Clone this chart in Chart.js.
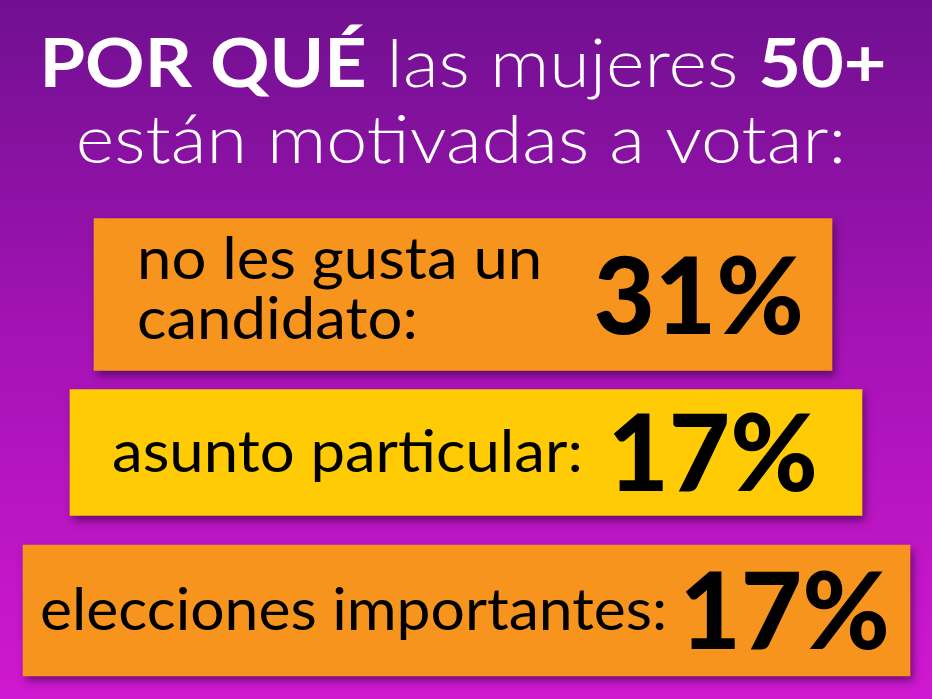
<!DOCTYPE html>
<html>
<head>
<meta charset="utf-8">
<script src="https://cdn.jsdelivr.net/npm/chart.js@4"></script>
<style>
  html, body { margin: 0; padding: 0; background: #7a1096; }
  #wrap { width: 932px; height: 699px; position: relative; }
</style>
</head>
<body>
<div id="wrap"><canvas id="motivosChart"></canvas></div>
<script>
// data
const categories = ['no les gusta un candidato', 'asunto particular', 'elecciones importantes'];
const labelLines = [['no les gusta un', 'candidato:'], ['asunto particular:'], ['elecciones importantes:']];
const percentages = [31, 17, 17];
// bar spans in x-scale units (the design widens each row, not tied to the value)
const barFrom = [94, 70, 23];
const barTo = [832, 862, 910];
const barColors = ['#f7941e', '#ffcb05', '#f7941e'];
const barHeights = [152, 126, 131];

const titleLine1 = [
  { text: 'POR QUÉ', weight: 700 },
  { text: ' las mujeres ', weight: 300 },
  { text: '50+', weight: 700 }
];
const titleLine2 = 'están motivadas a votar:';

const labelInset = [43, 42, 17];
const labelSizes = [59, 59, 58];
const pctInset = [31, 47, 23];

// the source image is a bit stretched sideways
const titleStretch = 1.1;
const labelStretch = 1.045;

function stretchedText(ctx, text, x, y, sx, align) {
  const w = ctx.measureText(text).width * sx;
  let x0 = x;
  if (align === 'center') x0 = x - w / 2;
  if (align === 'right') x0 = x - w;
  ctx.save();
  ctx.textAlign = 'left';
  ctx.translate(x0, y);
  ctx.scale(sx, 1);
  ctx.fillText(text, 0, 0);
  ctx.restore();
  return w;
}

const datasets = categories.map((c, i) => ({
  label: c,
  data: categories.map((_, j) => (j === i ? [barFrom[i], barTo[i]] : null)),
  backgroundColor: barColors[i],
  borderWidth: 0,
  borderSkipped: false,
  barThickness: barHeights[i],
  grouped: false,
  clip: false
}));

const infographicPlugin = {
  id: 'infographic',
  beforeDraw(chart) {
    const ctx = chart.ctx;
    const g = ctx.createLinearGradient(0, 0, 0, chart.height);
    g.addColorStop(0, '#701090');
    g.addColorStop(0.5, '#a613b6');
    g.addColorStop(1, '#d018d0');
    ctx.save();
    ctx.fillStyle = g;
    ctx.fillRect(0, 0, chart.width, chart.height);

    // title
    ctx.fillStyle = '#ffffff';
    ctx.textBaseline = 'alphabetic';
    const size = 67;
    let total = 0;
    titleLine1.forEach(p => {
      ctx.font = p.weight + ' ' + size + 'px Lato';
      p.w = ctx.measureText(p.text).width * titleStretch;
      total += p.w;
    });
    let x = chart.width / 2 - 3 - total / 2;
    titleLine1.forEach(p => {
      ctx.font = p.weight + ' ' + size + 'px Lato';
      stretchedText(ctx, p.text, x, 87, titleStretch, 'left');
      x += p.w;
    });
    ctx.font = '300 ' + size + 'px Lato';
    stretchedText(ctx, titleLine2, chart.width / 2 - 5, 163, titleStretch, 'center');
    ctx.restore();
  },
  beforeDatasetsDraw(chart) {
    const ctx = chart.ctx;
    ctx.save();
    ctx.shadowColor = 'rgba(45, 0, 60, 0.55)';
    ctx.shadowBlur = 8;
    ctx.shadowOffsetX = 3;
    ctx.shadowOffsetY = 5;
  },
  afterDatasetsDraw(chart) {
    const ctx = chart.ctx;
    ctx.restore();
    ctx.save();
    ctx.fillStyle = '#000000';
    ctx.textBaseline = 'alphabetic';
    categories.forEach((c, i) => {
      const bar = chart.getDatasetMeta(i).data[i];
      if (!bar) return;
      const left = Math.min(bar.x, bar.base);
      const right = Math.max(bar.x, bar.base);
      const cy = bar.y;
      // label
      ctx.font = '400 ' + labelSizes[i] + 'px Lato';
      const lines = labelLines[i];
      if (lines.length === 2) {
        stretchedText(ctx, lines[0], left + labelInset[i], cy - 15.5, labelStretch, 'left');
        stretchedText(ctx, lines[1], left + labelInset[i], cy + 44.5, labelStretch, 'left');
      } else {
        stretchedText(ctx, lines[0], left + labelInset[i], cy + 19.5, labelStretch, 'left');
      }
      // percentage
      ctx.font = '900 106px Lato';
      ctx.textAlign = 'right';
      ctx.fillText(percentages[i] + '%', right - pctInset[i] + 3, cy + (i === 0 ? 39.5 : 38));
    });
    ctx.restore();
  }
};

new Chart(document.getElementById('motivosChart'), {
  type: 'bar',
  data: { labels: categories, datasets: datasets },
  options: {
    indexAxis: 'y',
    responsive: true,
    maintainAspectRatio: false,
    animation: false,
    layout: { padding: { top: 215.5, bottom: 9.5, left: 0, right: 0 } },
    scales: {
      x: { type: 'linear', min: 0, max: 932, display: false },
      y: { display: false, offset: true }
    },
    plugins: {
      legend: { display: false },
      tooltip: { enabled: false }
    }
  },
  plugins: [infographicPlugin]
});
</script>
</body>
</html>
